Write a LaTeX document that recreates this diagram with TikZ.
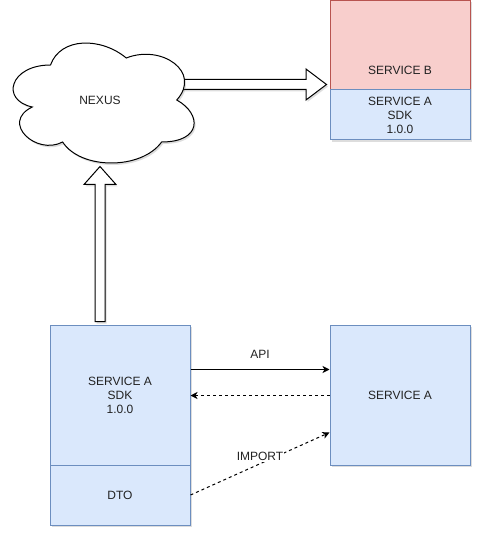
\documentclass[tikz,border=0pt]{standalone}
\usepackage{fontspec}
\setmainfont{Liberation Sans}
\usetikzlibrary{arrows.meta,shadows,calc}
\definecolor{bluefill}{HTML}{DAE8FC}
\definecolor{bluedraw}{HTML}{6C8EBF}
\definecolor{redfill}{HTML}{F8CECC}
\definecolor{reddraw}{HTML}{B85450}
\definecolor{txt}{HTML}{222222}
\begin{document}
\begin{tikzpicture}[x=1pt,y=-1pt,
  lbl/.style={font=\fontsize{12}{14}\selectfont, text=txt, align=center, inner sep=1pt},
  shad/.style={drop shadow={shadow xshift=1.5pt, shadow yshift=-2pt, opacity=0.22, fill=black!60}},
  bluebox/.style={shad, rectangle, draw=bluedraw, fill=bluefill, line width=1pt, inner sep=0pt, minimum width=140pt, lbl},
  redbox/.style={shad, rectangle, draw=reddraw, fill=redfill, line width=1pt, inner sep=0pt, minimum width=140pt, lbl},
  conn/.style={line width=1pt, draw=black, -{Stealth[length=7pt, width=7pt, inset=2pt]}},
  dashconn/.style={conn, dash pattern=on 3pt off 3pt},
  blockarrow/.style={shad, draw=black, fill=white, line width=1pt, line join=miter}
]
\useasboundingbox (0,0) rectangle (482,537);

% boxes
\node[redbox, minimum height=89.5pt] (servB) at (400,45.25) {};
\node[lbl] (servBtxt) at ($(servB.south)+(0,-20)$) {SERVICE B};
\node[bluebox, minimum height=50pt] (sdkB) at (400,115) {SERVICE A\\SDK\\1.0.0};

\node[bluebox, minimum height=140pt] (sdkA) at (120,395) {SERVICE A\\SDK\\1.0.0};
\node[bluebox, minimum height=60pt] (dto) at (120,495) {DTO};
\node[bluebox, minimum height=140pt] (svcA) at (400,395) {SERVICE A};

% block arrow NEXUS -> SERVICE B
\coordinate (htip) at ($(servB.south west)+(-3,-6)$);
\draw[blockarrow] ($(htip)+(-147,-5)$) -- ($(htip)+(-20.5,-5)$) -- ($(htip)+(-20.5,-15.5)$) -- (htip)
  -- ($(htip)+(-20.5,15.5)$) -- ($(htip)+(-20.5,5)$) -- ($(htip)+(-147,5)$);

% block arrow SDK -> NEXUS
\coordinate (vbot) at ($(sdkA.north)+(-20,-3)$);
\coordinate (vtip) at ($(vbot)+(0,-155)$);
\draw[blockarrow] ($(vbot)+(-5,0)$) -- ($(vtip)+(-5,18)$) -- ($(vtip)+(-16,18)$) -- (vtip)
  -- ($(vtip)+(16,18)$) -- ($(vtip)+(5,18)$) -- ($(vbot)+(5,0)$) -- cycle;

% cloud
\draw[shad, draw=black, fill=white, line width=1pt]
  (50.5,65) .. controls (10.1,65) and (0,100) .. (32.32,107)
  .. controls (0,122.4) and (36.36,156) .. (62.62,142)
  .. controls (80.8,170) and (141.4,170) .. (161.6,142)
  .. controls (202,142) and (202,114) .. (176.75,100)
  .. controls (202,72) and (161.6,44) .. (126.25,58)
  .. controls (101,37) and (60.6,37) .. (50.5,65) -- cycle;
\node[lbl] (nexus) at (100,100) {NEXUS};

% connectors
\draw[conn] ($(sdkA.north east)+(0,45)$) -- node[lbl, midway, yshift=15pt] (api) {API} ($(svcA.north west)+(0,45)$);
\draw[dashconn] ($(svcA.north west)+(0,71)$) -- ($(sdkA.north east)+(0,71)$);
\draw[dashconn] (dto.east) -- node[lbl, midway, yshift=7pt, fill=white, inner sep=0.5pt] (imp) {IMPORT} ($(svcA.south west)+(0,-33)$);
\end{tikzpicture}
\end{document}
